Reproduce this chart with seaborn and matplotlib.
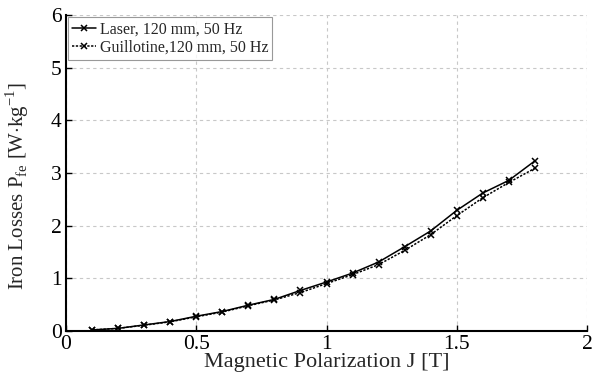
import numpy as np
import pandas as pd
import matplotlib
matplotlib.use("Agg")
import matplotlib.pyplot as plt
import seaborn as sns

J = [0.1, 0.2, 0.3, 0.4, 0.5, 0.6, 0.7, 0.8, 0.9, 1.0, 1.1, 1.2, 1.3, 1.4, 1.5, 1.6, 1.7, 1.8]
laser = [0.02, 0.05, 0.115, 0.18, 0.28, 0.37, 0.49, 0.60, 0.77, 0.93, 1.10, 1.31, 1.60, 1.90, 2.29, 2.62, 2.86, 3.23]
guillotine = [0.02, 0.05, 0.11, 0.175, 0.27, 0.36, 0.48, 0.59, 0.73, 0.90, 1.07, 1.26, 1.53, 1.83, 2.19, 2.53, 2.82, 3.09]
names = ["Laser, 120 mm, 50 Hz", "Guillotine,120 mm, 50 Hz"]

sns.set_theme(style="white")
plt.rcParams['font.family'] = ['Liberation Serif', 'DejaVu Serif']
plt.rcParams['mathtext.fontset'] = 'custom'
plt.rcParams['mathtext.rm'] = 'Liberation Serif'

fig = plt.figure(figsize=(6.01, 3.78), dpi=100)
ax = fig.add_axes([66/601, 1-331/378, (587-66)/601, (331-15)/378])

common = dict(color="black", linewidth=1.1, marker="x", markersize=5,
              markeredgewidth=1.1, markeredgecolor="black")
sns.lineplot(x=J, y=laser, ax=ax, linestyle="-", label=names[0], **common)
sns.lineplot(x=J, y=guillotine, ax=ax, linestyle=(0, (1.5, 1)), label=names[1], **common)

ax.set_xlim(0, 2)
ax.set_ylim(0, 6)
ax.set_xticks([0, 0.5, 1, 1.5, 2])
ax.set_xticklabels(["0", "0.5", "1", "1.5", "2"])
ax.set_yticks([0, 1, 2, 3, 4, 5, 6])
ax.grid(True, linestyle=(0, (3, 3)), color="#c8c8c8", linewidth=0.8)
for s in ["top", "right"]:
    ax.spines[s].set_visible(False)
for s in ["left", "bottom"]:
    ax.spines[s].set_color("black")
    ax.spines[s].set_linewidth(1.5)
ax.tick_params(direction="in", length=4, width=1, labelsize=15.5, colors="black",
               bottom=True, left=True)
ax.tick_params(axis="x", pad=3)
ax.tick_params(axis="y", pad=3)
ax.set_xlabel("Magnetic Polarization J [T]", fontsize=16, labelpad=-1)
ax.set_ylabel(r"Iron Losses P$_{\rm fe}$ [W$\cdot$kg$^{-1}$]", fontsize=15)
ax.yaxis.set_label_coords(-0.068, 0.46)

leg = ax.legend(loc="upper left", fontsize=11.5, frameon=True, fancybox=False,
                edgecolor="#808080", handlelength=1.5, handletextpad=0.2,
                borderpad=0.25, labelspacing=0.15, borderaxespad=0.15)
leg.get_frame().set_linewidth(0.8)

fig.savefig("out.png", dpi=100)
